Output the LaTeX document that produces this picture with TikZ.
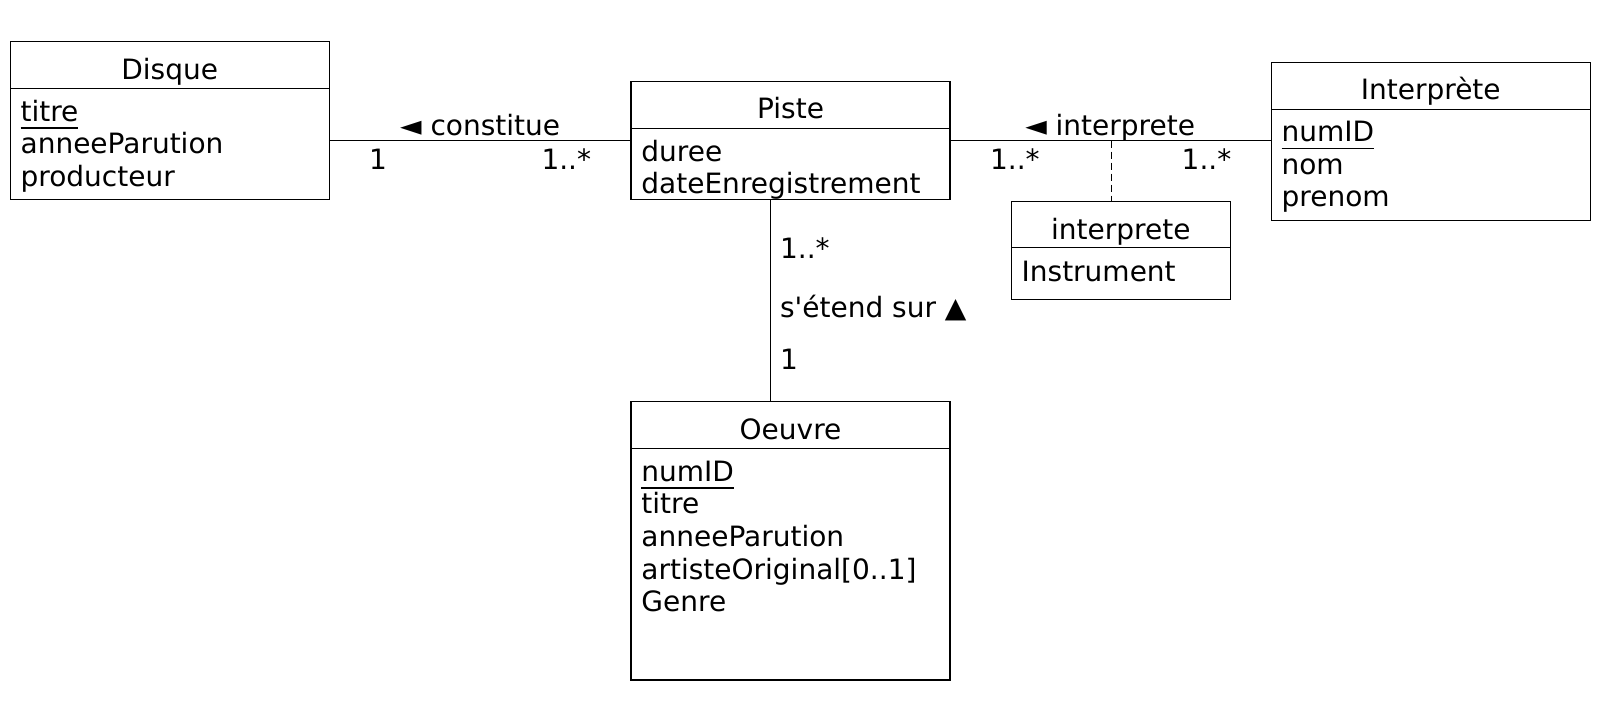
\documentclass[tikz,border=0pt]{standalone}
\usepackage{fontspec}
\setmainfont{DejaVu Sans}[Ligatures=TeXOff]
\newcommand\ulin[1]{\setbox0\hbox{#1}\rlap{\raisebox{-7.5pt}{\rule{\wd0}{1.5pt}}}\box0}
\begin{document}
\begin{tikzpicture}[x=1.0194pt,y=-1.0194pt,
  font=\fontsize{28}{33}\selectfont,
  umlbox/.style={draw, line width=1.15pt, anchor=north west, inner sep=0pt, outer sep=0pt, minimum width=319pt},
  umlline/.style={line width=1.15pt},
  title/.style={anchor=base, inner sep=0pt},
  attr/.style={anchor=base west, inner sep=0pt},
  lblc/.style={anchor=base, inner sep=0pt},
  lbl/.style={anchor=base west, inner sep=0pt}]
\useasboundingbox (0,0) rectangle (1566.6,689.6);

% Disque
\node[umlbox, minimum height=158pt] (disque) at (10,41) {};
\draw[umlline] (disque.west |- 0,87) -- (disque.east |- 0,87);
\node[title] (disqueT) at (166.5,77.7) {Disque};
\node[attr] (d1) at (20,119) {\ulin{titre}};
\node[attr] (d2) at (20,151) {anneeParution};
\node[attr] (d3) at (20,183) {producteur};

% Piste
\node[umlbox, minimum height=118.3pt] (piste) at (619,80) {};
\draw[umlline] (piste.west |- 0,126) -- (piste.east |- 0,126);
\node[title] (pisteT) at (775.5,116.7) {Piste};
\node[attr] (p1) at (629,158) {duree};
\node[attr] (p2) at (629,190) {dateEnregistrement};

% Interprete
\node[umlbox, minimum height=158pt] (interp) at (1247,61) {};
\draw[umlline] (interp.west |- 0,107) -- (interp.east |- 0,107);
\node[title] (interpT) at (1403.5,97.7) {Interprète};
\node[attr] (i1) at (1257,139) {\ulin{numID}};
\node[attr] (i2) at (1257,171) {nom};
\node[attr] (i3) at (1257,203) {prenom};

% association class
\node[umlbox, minimum width=219.2pt, minimum height=97.9pt] (assoc) at (992,198) {};
\draw[umlline] (assoc.west |- 0,243) -- (assoc.east |- 0,243);
\node[title] (assocT) at (1099.5,234.7) {interprete};
\node[attr] (a1) at (1002,276) {Instrument};

% Oeuvre
\node[umlbox, minimum height=278.3pt] (oeuvre) at (619,394) {};
\draw[umlline] (oeuvre.west |- 0,440) -- (oeuvre.east |- 0,440);
\node[title] (oeuvreT) at (775.5,430.7) {Oeuvre};
\node[attr] (o1) at (629,472) {\ulin{numID}};
\node[attr] (o2) at (629,504) {titre};
\node[attr] (o3) at (629,536) {anneeParution};
\node[attr] (o4) at (629,568) {artisteOriginal[0..1]};
\node[attr] (o5) at (629,600) {Genre};

% connectors
\draw[umlline] (disque.east |- piste.west) -- (piste.west);
\draw[umlline] (piste.east) -- (piste.east -| interp.west);
\coordinate (acj) at (1090,138);
\draw[umlline, dash pattern=on 7pt off 4pt] (acj) -- (acj |- assoc.north);
\coordinate (vtop) at (755.5,196);
\draw[umlline] (vtop) -- (vtop |- oeuvre.north);

% labels
\node[lblc] (lc) at (471,133) {◄ constitue};
\node[lbl] (lc1) at (362,166) {1};
\node[lbl] (lc2) at (531,166) {1..*};
\node[lblc] (li) at (1089,133) {◄ interprete};
\node[lbl] (li1) at (971,166) {1..*};
\node[lbl] (li2) at (1159,166) {1..*};
\node[lbl] (lv1) at (765,254) {1..*};
\node[lbl] (lv) at (765,311) {s'étend sur ▲};
\node[lbl] (lv2) at (765,362) {1};
\end{tikzpicture}
\end{document}
